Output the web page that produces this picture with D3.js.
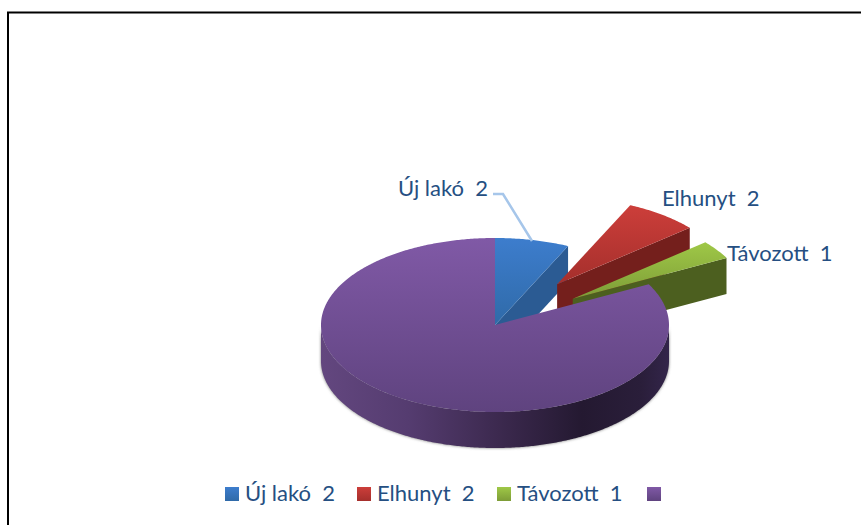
<!DOCTYPE html>
<html>
<head>
<meta charset="utf-8">
<script src="https://cdn.jsdelivr.net/npm/d3@7"></script>
<style>
  body { margin: 0; background: #fff; }
  svg { display: block; }
  text { font-family: Lato, "Open Sans", sans-serif; font-size: 22px; fill: #254f82; white-space: pre; }
</style>
</head>
<body>
<div id="chart"></div>
<script>
// #Data
const categories = ['Új lakó', 'Elhunyt', 'Távozott', ''];
const values = [2, 2, 1, 24];
const shownValues = ['2', '2', '1', ''];
const explosions = [0, 0.59, 0.54, 0];

// #Colors: top of slice gradient, bottom of gradient, cut side
const topColors = ['#3d7dcd', '#cc3e3a', '#9fc847', '#8059a6'];
const bottomColors = ['#2f6aa8', '#a52f2c', '#7d9c37', '#5f437f'];
const sideColors = ['#2b5b93', '#741f1c', '#4c5f1f', '#3d2a50'];

// #Layout
const w = 861;
const h = 525;
const cx = 495;
const cy = 325;
const rx = 174;
const ry = 87;
const depth = 36;
const labelPos = [[398, 196], [662, 206], [727, 261]];
const legendPos = [225, 357, 497, 647];
const legendY = 487;
const swatch = 14;

const svg = d3.select('#chart').append('svg').attr('width', w).attr('height', h);
const defs = svg.append('defs');

// #Scales from the unit circle to the flattened pie
const xScale = d3.scaleLinear().domain([-1, 1]).range([cx - rx, cx + rx]);
const yScale = d3.scaleLinear().domain([-1, 1]).range([cy + ry, cy - ry]);
const lineGen = d3.line().x(d => xScale(d[0])).y(d => yScale(d[1]) + (d[2] || 0));
const polar = (a, drop) => [Math.sin(a), Math.cos(a), drop || 0];

const slices = d3.pie().sort(null).value(d => d)(values);

// #Gradients
categories.forEach((c, i) => {
  const g = defs.append('linearGradient').attr('id', 'top' + i)
    .attr('x1', 0).attr('y1', 0).attr('x2', 0).attr('y2', 1);
  g.append('stop').attr('offset', 0).attr('stop-color', topColors[i]);
  g.append('stop').attr('offset', 1).attr('stop-color', bottomColors[i]);
});
const rimGrad = defs.append('linearGradient').attr('id', 'rim')
  .attr('x1', 0).attr('y1', 0).attr('x2', 1).attr('y2', 0);
[[0, '#63477f'], [0.25, '#553c70'], [0.5, '#3d2a50'], [0.75, '#241931'], [0.92, '#2a1e3a'], [1, '#33254a']]
  .forEach(s => rimGrad.append('stop').attr('offset', s[0]).attr('stop-color', s[1]));
defs.append('filter').attr('id', 'soft')
  .attr('x', '-5%').attr('y', '-5%').attr('width', '110%').attr('height', '110%')
  .append('feGaussianBlur').attr('stdDeviation', 1.5);

// #Frame
svg.append('rect').attr('x', 8).attr('y', 12.5).attr('width', w + 20).attr('height', h + 20)
  .attr('fill', 'none').attr('stroke', '#000').attr('stroke-width', 2);

// #Slices, blue first, purple last so it covers the others
slices.forEach((s, i) => {
  const mid = (s.startAngle + s.endAngle) / 2;
  const e = explosions[i];
  const g = svg.append('g')
    .attr('transform', 'translate(' + (e * Math.sin(mid) * rx) + ',' + (-e * Math.cos(mid) * ry) + ')');
  const arcAngles = d3.range(s.startAngle, s.endAngle, 0.01).concat([s.endAngle]);

  if (i === 3) {
    // outer wall of the big slice, front half only
    const front = d3.range(Math.PI / 2, 3 * Math.PI / 2, 0.01).concat([3 * Math.PI / 2]);
    const wall = front.map(a => polar(a, depth)).concat(front.slice().reverse().map(a => polar(a, 0)));
    g.append('path').attr('d', lineGen(wall) + 'Z')
      .attr('fill', '#777').attr('filter', 'url(#soft)');
    g.append('path').attr('d', lineGen(wall) + 'Z').attr('fill', 'url(#rim)');
  } else {
    // cut side at the end of the wedge
    const end = polar(s.endAngle);
    const side = [[0, 0, 0], end, polar(s.endAngle, depth), [0, 0, depth]];
    g.append('path').attr('d', lineGen(side) + 'Z').attr('fill', sideColors[i]);
  }

  const face = [[0, 0, 0]].concat(arcAngles.map(a => polar(a)));
  g.append('path').attr('d', lineGen(face) + 'Z').attr('fill', 'url(#top' + i + ')');
});

// #Leader line of the first label
svg.append('path')
  .attr('d', d3.line()([[493, 194], [503, 194], [532, 241]]))
  .attr('fill', 'none').attr('stroke', '#a6c6ea').attr('stroke-width', 2.5);

// #Data labels
labelPos.forEach((p, i) => {
  svg.append('text').attr('x', p[0]).attr('y', p[1])
    .text(categories[i] + '  ' + shownValues[i]);
});

// #Legend
categories.forEach((c, i) => {
  svg.append('rect').attr('x', legendPos[i]).attr('y', legendY)
    .attr('width', swatch).attr('height', swatch).attr('fill', 'url(#top' + i + ')');
  if (c) {
    svg.append('text').attr('x', legendPos[i] + swatch + 6).attr('y', legendY + 14)
      .text(c + '  ' + shownValues[i]);
  }
});
</script>
</body>
</html>
